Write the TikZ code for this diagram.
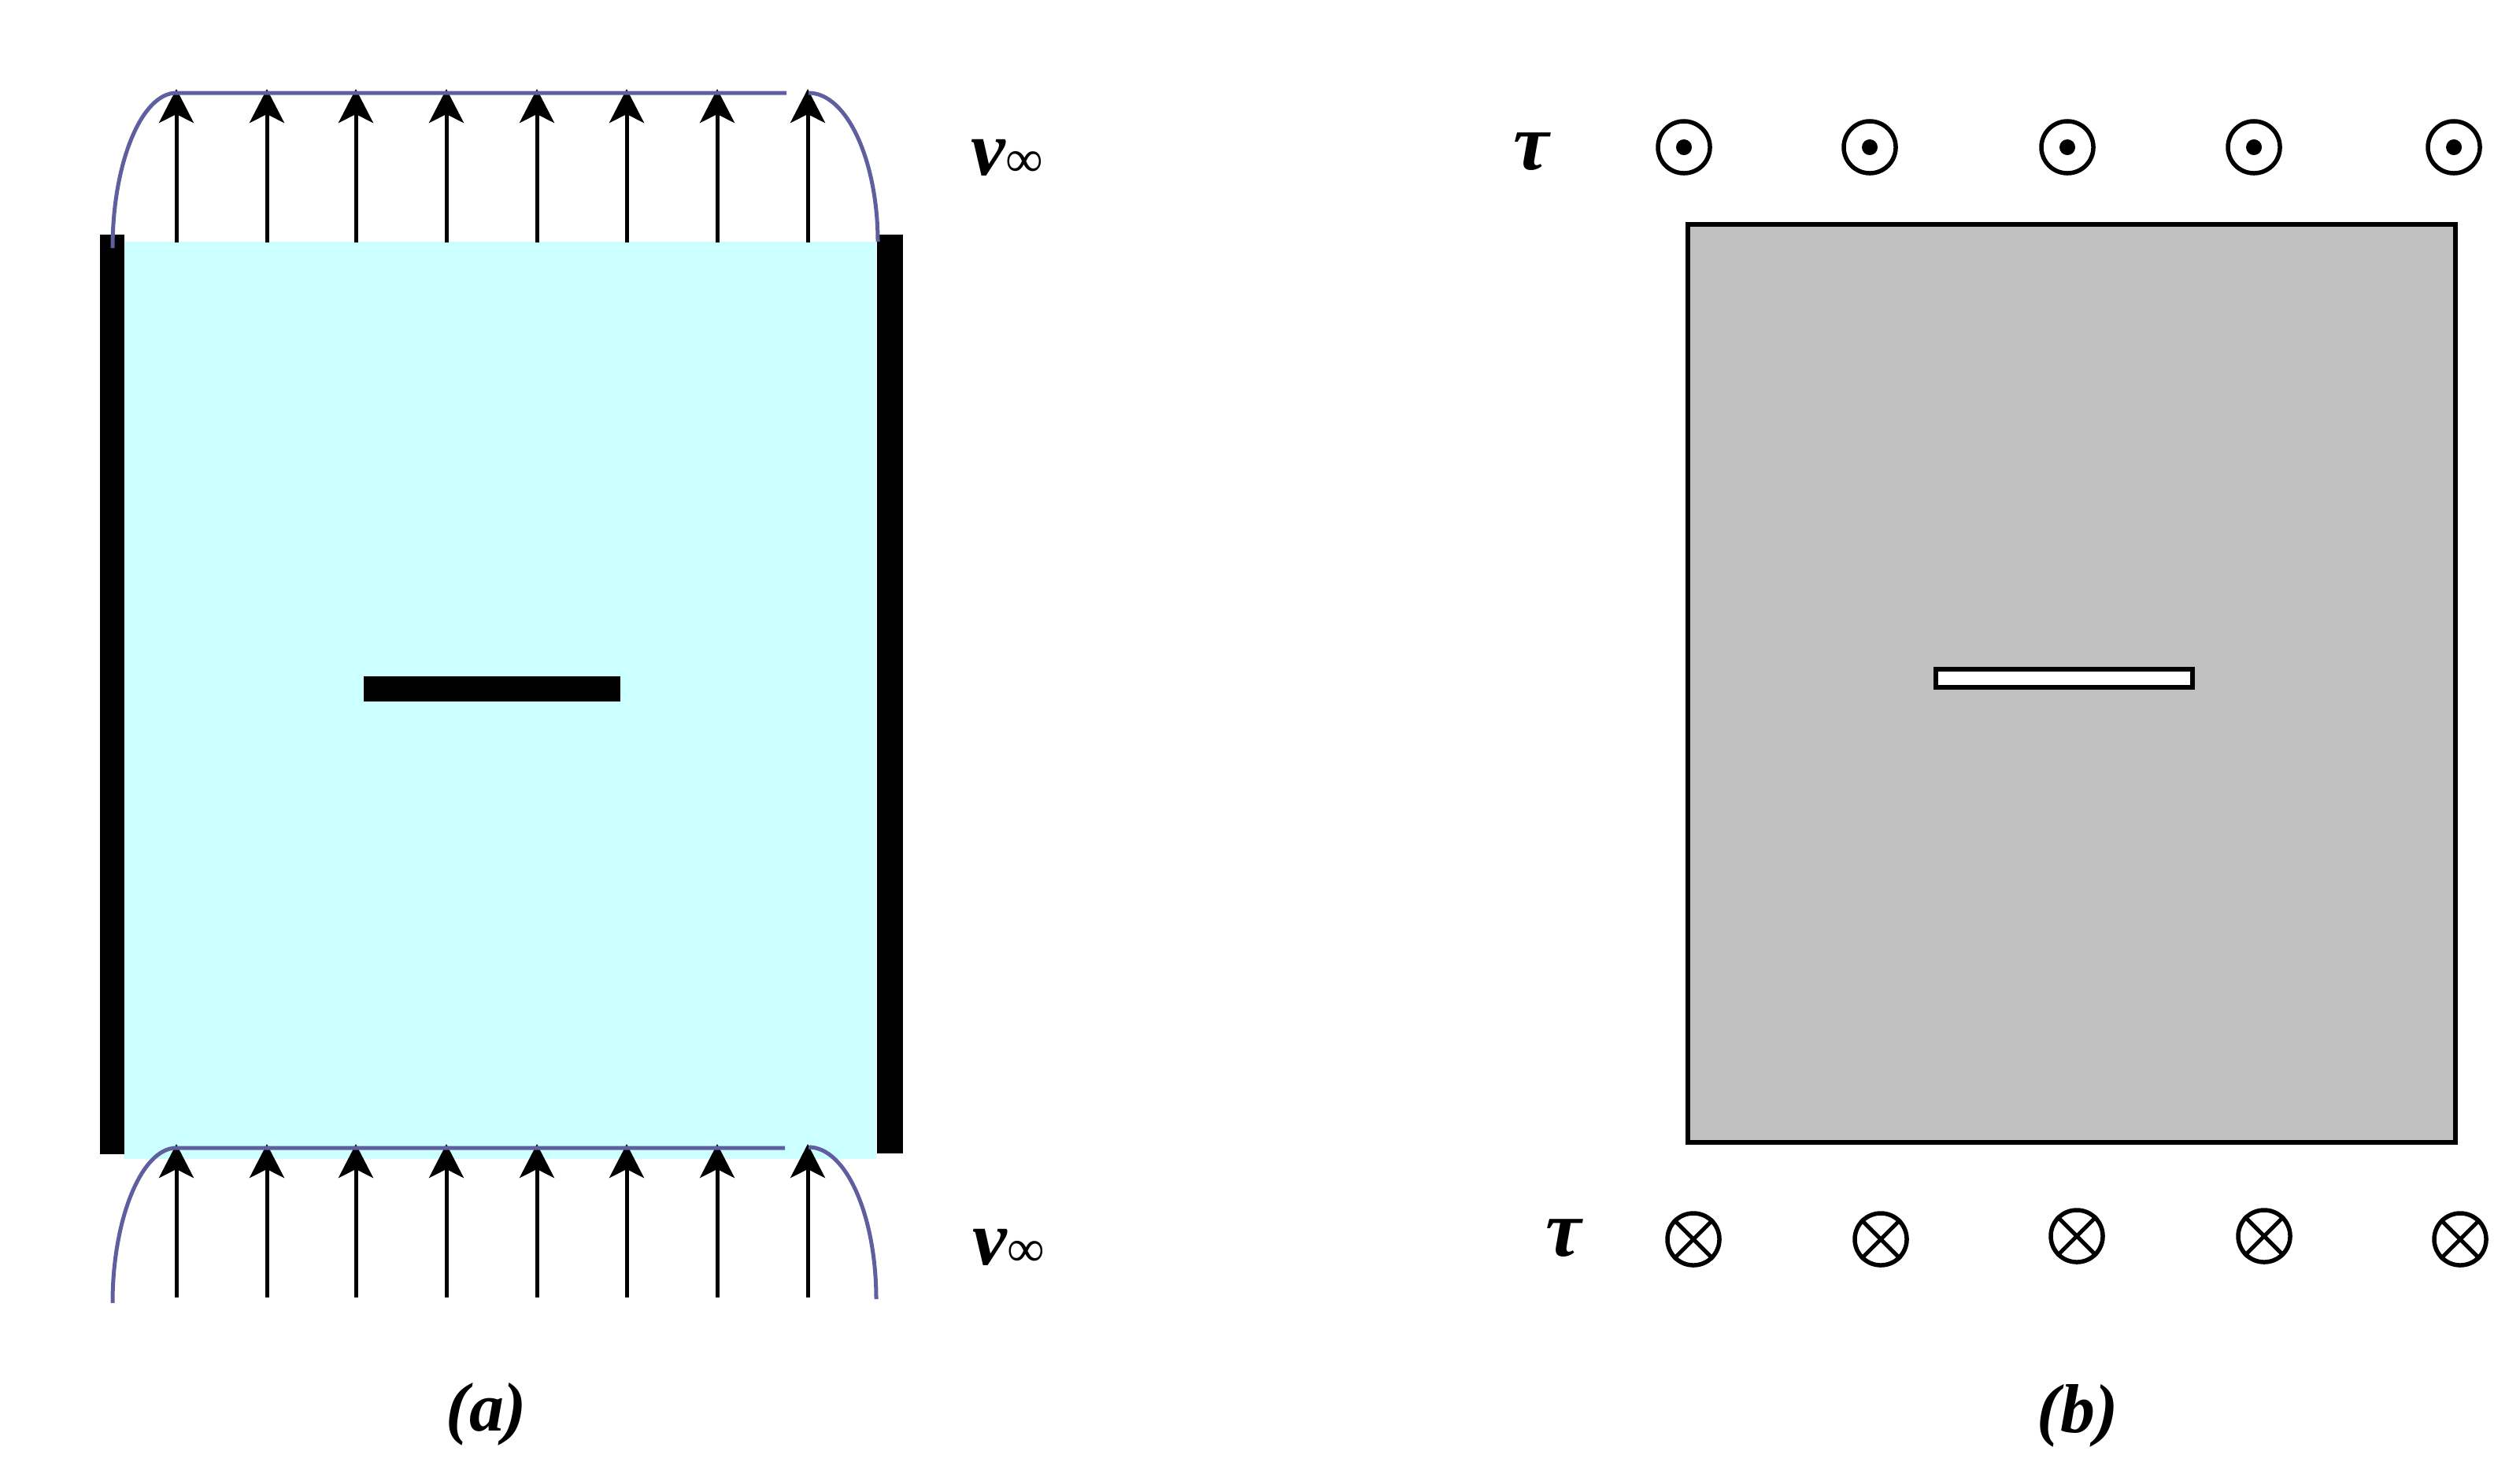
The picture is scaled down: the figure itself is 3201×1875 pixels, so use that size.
\documentclass[tikz,border=0pt]{standalone}
\usepackage{fontspec}
\setmainfont{Liberation Serif}
\usetikzlibrary{arrows.meta}
\definecolor{fluid}{HTML}{CCFFFF}
\definecolor{streamline}{HTML}{5F5F9F}
\definecolor{solid}{HTML}{C0C0C0}
\newcommand{\vinf}{{\fontsize{28}{30}\selectfont\bfseries\itshape v}\raisebox{-0.02cm}{\fontsize{19}{20}\selectfont ∞}}
\tikzset{
  x=0.01cm, y=-0.01cm,
  flowarrow/.style={line width=0.05cm, -{Stealth[length=0.43cm,width=0.44cm,inset=0.11cm]}},
  stream/.style={line width=0.05cm, color=streamline},
  marker/.style={circle, draw=black, line width=0.055cm, inner sep=0, minimum size=0.66cm},
  dotmark/.style={circle, fill=black, inner sep=0, minimum size=0.2cm},
  label/.style={inner sep=0, text=black},
}
\begin{document}
\begin{tikzpicture}
\useasboundingbox (0,0) rectangle (3201,1875);
% panel (a)
\fill[fluid] (158,307) rectangle (1113,1472);
\fill[black] (127,298) rectangle (158,1466);
\fill[black] (1114,298) rectangle (1147,1465);
\fill[black] (462,859) rectangle (788,891);
\foreach \i/\x in {1/224,2/339,3/452,4/567,5/682,6/796,7/911,8/1026}{
  \coordinate (tb\i) at (\x,308);
  \coordinate (tt\i) at (\x,113);
  \coordinate (bb\i) at (\x,1648);
  \coordinate (bt\i) at (\x,1453);
  \draw[flowarrow] (tb\i) -- (tt\i);
  \draw[flowarrow] (bb\i) -- (bt\i);
}
\coordinate (tl0) at (143,315);
\coordinate (tl1) at (224,118);
\coordinate (tl2) at (999,118);
\coordinate (tr1) at (1027,118);
\coordinate (tr2) at (1115,307);
\draw[stream] (tl0) .. controls (143,207) and (180,118) .. (tl1) -- (tl2);
\draw[stream] (tr1) .. controls (1076,118) and (1115,205) .. (tr2);
\coordinate (bl0) at (143,1655);
\coordinate (bl1) at (224,1458);
\coordinate (bl2) at (997,1458);
\coordinate (br1) at (1027,1457);
\coordinate (br2) at (1113,1650);
\draw[stream] (bl0) .. controls (143,1548) and (180,1458) .. (bl1) -- (bl2);
\draw[stream] (br1) .. controls (1075,1457) and (1113,1545) .. (br2);
\node[label] (v1) at (1279,201) {\vinf};
\node[label] (v2) at (1281,1585) {\vinf};
\node[label] (a) at (618,1796) {\fontsize{25}{28}\selectfont\bfseries\itshape (a)};
% panel (b)
\draw[line width=0.055cm, fill=solid] (2144,285) rectangle (3119,1451);
\draw[line width=0.055cm, fill=white] (2459,850) rectangle (2785,873);
\foreach \i/\x in {1/2146,2/2382,3/2633,4/2870,5/3124}{
  \node[marker] (o\i) at (\x-7,187) {};
  \node[dotmark] (d\i) at (o\i) {};
}
\foreach \i/\x/\y in {1/2151/1574,2/2389/1574,3/2638/1570,4/2876/1570,5/3125/1574}{
  \node[marker] (c\i) at (\x,\y) {};
  \draw[line width=0.05cm] (c\i.north west) -- (c\i.south east);
  \draw[line width=0.05cm] (c\i.north east) -- (c\i.south west);
}
\node[label] (t1) at (1945,193) {\fontsize{29}{30}\selectfont\bfseries\itshape τ};
\node[label] (t2) at (1986,1573) {\fontsize{29}{30}\selectfont\bfseries\itshape τ};
\node[label] (b) at (2639,1798) {\fontsize{25}{28}\selectfont\bfseries\itshape (b)};
\end{tikzpicture}
\end{document}
